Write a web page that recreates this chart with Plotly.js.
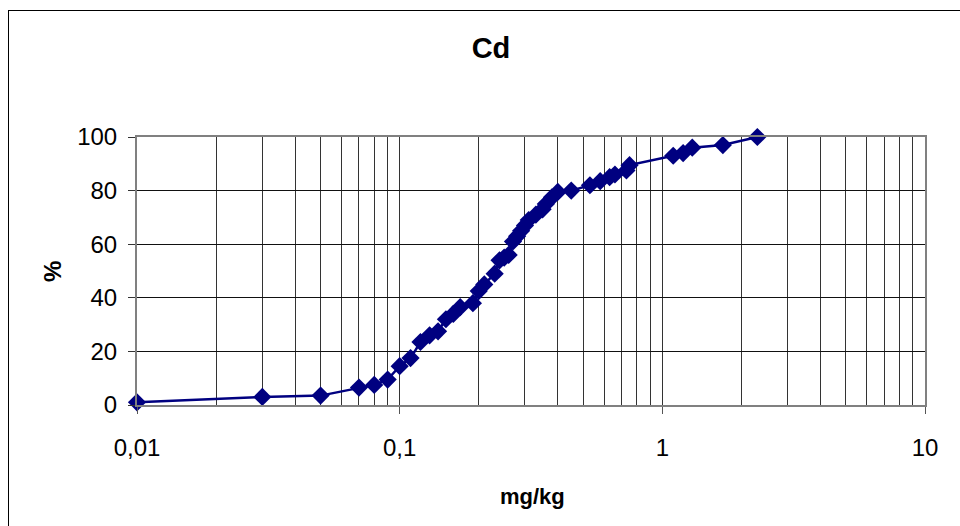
<!DOCTYPE html>
<html>
<head>
<meta charset="utf-8">
<script src="https://cdn.plot.ly/plotly-3.0.1.min.js"></script>
<style>
  html, body { margin: 0; padding: 0; background: #fff; overflow: hidden; }
  #chart { width: 960px; height: 526px; position: absolute; left: 0; top: 0; }
  #frame { position: absolute; left: 8px; top: 10px; width: 1000px; height: 600px;
           border: 1px solid #000; pointer-events: none; }
</style>
</head>
<body>
<div id="chart"></div>
<div id="frame"></div>
<script>
const concentration = [0.01, 0.03, 0.05, 0.07, 0.08, 0.09, 0.1, 0.11, 0.12, 0.13, 0.14, 0.15,
  0.16, 0.17, 0.19, 0.2, 0.21, 0.23, 0.24, 0.25, 0.26, 0.27, 0.28, 0.29, 0.3, 0.31, 0.33,
  0.35, 0.36, 0.38, 0.4, 0.45, 0.53, 0.58, 0.63, 0.66, 0.73, 0.75, 1.1, 1.2, 1.3, 1.7, 2.3];
const percent = [1, 3, 3.5, 6.5, 7.5, 9.5, 14.5, 17.5, 23.5, 26, 27.5, 32,
  34, 36.5, 38, 42.5, 45, 49, 54, 55, 56, 61, 63, 65, 67, 69, 71,
  73, 75, 77.5, 79.5, 80, 82, 83.5, 85, 86, 87.5, 89.5, 93, 94, 96, 97, 100];
const xTickVals = [0.01, 0.1, 1, 10];
const xTickText = ['0,01', '0,1', '1', '10'];
const yTickVals = [0, 20, 40, 60, 80, 100];

const font = 'Liberation Sans, Arial, sans-serif';

const trace = {
  x: concentration, y: percent, type: 'scatter', mode: 'lines+markers',
  line: { color: '#000080', width: 2.5 },
  marker: { symbol: 'diamond', size: 14, color: '#000080' },
  cliponaxis: false, hoverinfo: 'x+y'
};

const layout = {
  width: 960, height: 526,
  paper_bgcolor: '#ffffff', plot_bgcolor: '#ffffff',
  margin: { l: 137, r: 35, t: 137, b: 121 },
  showlegend: false,
  title: { text: '<b>Cd</b>', font: { family: font, size: 29, color: '#000' },
           xref: 'container', x: 491 / 960, yref: 'container', y: 1 - 48 / 526, yanchor: 'middle' },
  xaxis: {
    type: 'log', range: [-2, 1], tickvals: xTickVals, ticktext: xTickText,
    showgrid: true, gridcolor: '#333', gridwidth: 1,
    minor: { dtick: 'D1', showgrid: true, gridcolor: '#333', gridwidth: 1, ticks: '' },
    ticks: 'outside', ticklen: 7, tickcolor: '#555', tickwidth: 1,
    ticklabelstandoff: 13,
    tickfont: { family: font, size: 24, color: '#000' },
    showline: true, mirror: true, linecolor: '#808080', linewidth: 2,
    zeroline: false, fixedrange: true
  },
  yaxis: {
    range: [0, 100], tickvals: yTickVals,
    showgrid: true, gridcolor: '#111', gridwidth: 1,
    ticks: 'outside', ticklen: 7, tickcolor: '#333', tickwidth: 1,
    ticklabelstandoff: 6,
    tickfont: { family: font, size: 24, color: '#000' },
    showline: true, mirror: true, linecolor: '#808080', linewidth: 2,
    zeroline: false, fixedrange: true
  },
  annotations: [
    { text: '<b>mg/kg</b>', xref: 'paper', yref: 'paper', x: (532 - 137) / 788, y: -(496 - 405) / 268,
      xanchor: 'center', yanchor: 'middle', showarrow: false,
      font: { family: font, size: 22, color: '#000' } },
    { text: '<b>%</b>', xref: 'paper', yref: 'paper', x: -(137 - 52) / 788, y: (405 - 272) / 268,
      xanchor: 'center', yanchor: 'middle', showarrow: false, textangle: -90,
      font: { family: font, size: 24, color: '#000' } }
  ]
};

Plotly.newPlot('chart', [trace], layout, { displayModeBar: false, staticPlot: true });
</script>
</body>
</html>
